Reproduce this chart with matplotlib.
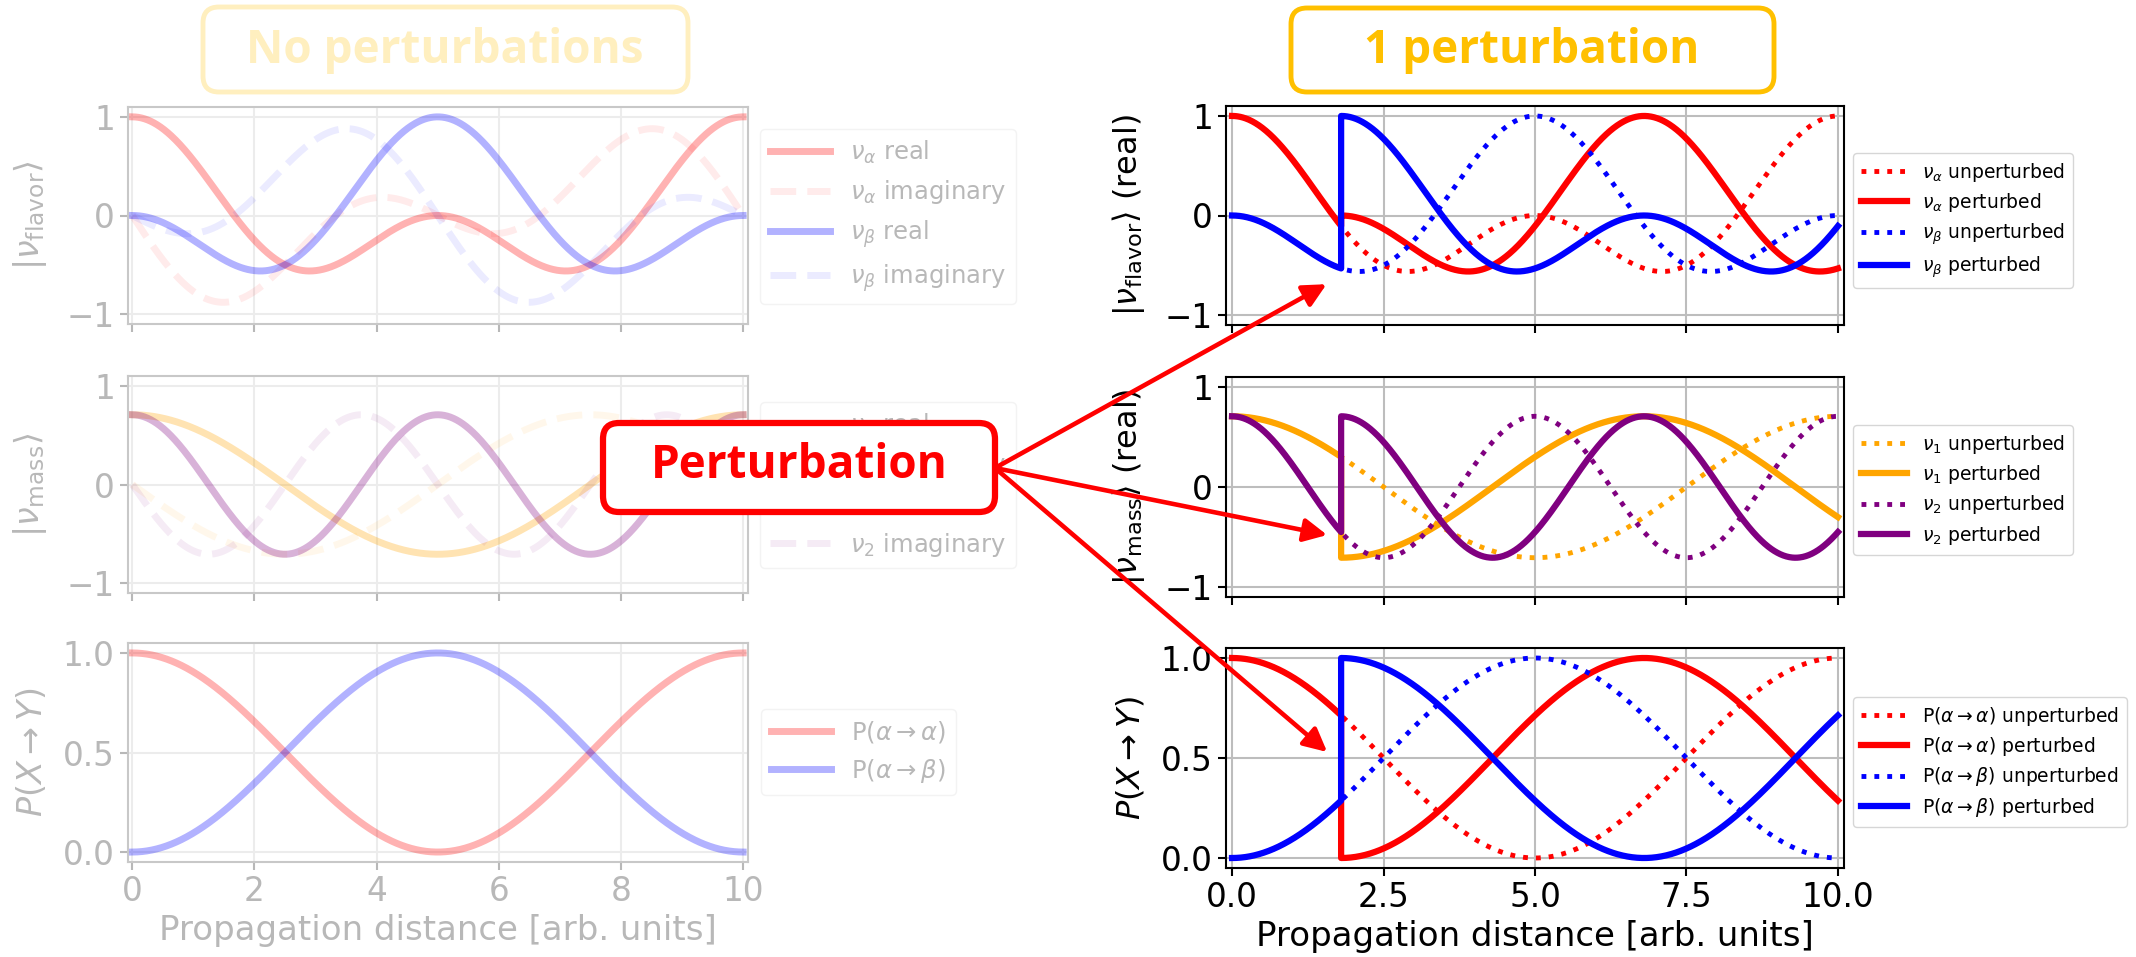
import numpy as np
import matplotlib.pyplot as plt
from matplotlib.patches import FancyBboxPatch, ConnectionPatch

# two-flavour oscillation model (arbitrary units)
x_max = 10.0
period_m1 = 10.0          # oscillation period of mass state 1
period_m2 = 5.0           # oscillation period of mass state 2
mixing_angle = np.pi / 4  # maximal mixing
x_pert = 1.8              # where the state is kicked into nu_beta

left_xticks = [0, 2, 4, 6, 8, 10]
right_xticks = [0, 2.5, 5, 7.5, 10]
amp_yticks = [-1, 0, 1]
prob_yticks = [0, 0.5, 1]

flavor_labels = [r"$\nu_\alpha$", r"$\nu_\beta$"]
mass_labels = [r"$\nu_1$", r"$\nu_2$"]
prob_labels = [r"P($\alpha\rightarrow\alpha$)", r"P($\alpha\rightarrow\beta$)"]
flavor_colors = ["red", "blue"]
mass_colors = ["orange", "purple"]

ct, st = np.cos(mixing_angle), np.sin(mixing_angle)


def evolve(x, c1_0, c2_0, x0=0.0):
    c1 = c1_0 * np.exp(-2j * np.pi * (x - x0) / period_m1)
    c2 = c2_0 * np.exp(-2j * np.pi * (x - x0) / period_m2)
    return c1, c2


def to_flavor(c1, c2):
    return ct * c1 + st * c2, -st * c1 + ct * c2


# free propagation of a nu_alpha
x = np.linspace(0, x_max, 1001)
m1, m2 = evolve(x, ct, st)
fa, fb = to_flavor(m1, m2)

# same start, but collapsed onto nu_beta at x_pert
x_bef = np.linspace(0, x_pert, 200)
x_aft = np.linspace(x_pert, x_max, 820)
b1, b2 = evolve(x_bef, ct, st)
a1, a2 = evolve(x_aft, -st, ct, x_pert)
xp = np.concatenate([x_bef, x_aft])
pm1 = np.concatenate([b1, a1])
pm2 = np.concatenate([b2, a2])
pfa, pfb = to_flavor(pm1, pm2)

W, H = 2136, 957
fig = plt.figure(figsize=(W / 100, H / 100), dpi=100)


def add_ax(x0, x1, y0, y1):
    return fig.add_axes([x0 / W, 1 - y1 / H, (x1 - x0) / W, (y1 - y0) / H])


def style(ax, fg, grid_c, spine_c):
    ax.grid(True, color=grid_c, lw=1.5)
    ax.set_axisbelow(True)
    for s in ax.spines.values():
        s.set_color(spine_c)
        s.set_linewidth(1.5)
    ax.tick_params(colors=fg, labelsize=23.5, length=6, width=1.5)
    ax.yaxis.set_label_coords(-0.128, 0.5)


def legend(ax, px, py, fs, **kw):
    return ax.legend(loc="upper left", bbox_to_anchor=(px / W, 1 - py / H),
                     bbox_transform=fig.transFigure, borderaxespad=0,
                     fontsize=fs, handlelength=2.5, **kw)


# ---------------- left column: no perturbation (faded) ----------------
gray = "#b8b8b8"
left_rows = [(107, 324), (376, 593), (643, 862)]
lax = [add_ax(128, 748, r0, r1) for r0, r1 in left_rows]

for c, lab, amp in zip(flavor_colors, flavor_labels, [fa, fb]):
    lax[0].plot(x, amp.real, color=c, lw=5, alpha=0.3, label=lab + " real")
    lax[0].plot(x, amp.imag, color=c, lw=5, ls="--", alpha=0.08, label=lab + " imaginary")
for c, lab, amp in zip(mass_colors, mass_labels, [m1, m2]):
    lax[1].plot(x, amp.real, color=c, lw=5, alpha=0.3, label=lab + " real")
    lax[1].plot(x, amp.imag, color=c, lw=5, ls="--", alpha=0.08, label=lab + " imaginary")
for c, lab, amp in zip(flavor_colors, prob_labels, [fa, fb]):
    lax[2].plot(x, np.abs(amp) ** 2, color=c, lw=5, alpha=0.3, label=lab)

lax[0].set_ylabel(r"$|\nu_{\rm flavor}\rangle$", fontsize=24, color=gray)
lax[1].set_ylabel(r"$|\nu_{\rm mass}\rangle$", fontsize=24, color=gray)
lax[2].set_ylabel(r"$P(X\rightarrow Y)$", fontsize=24, color=gray)
lax[2].set_xlabel("Propagation distance [arb. units]", fontsize=24.5, color=gray)

for i, ax in enumerate(lax):
    style(ax, gray, "#ececec", "#c8c8c8")
    ax.set_xlim(-0.07, 10.08)
    ax.set_xticks(left_xticks)
    if i < 2:
        ax.set_ylim(-1.1, 1.1)
        ax.set_yticks(amp_yticks)
        ax.tick_params(labelbottom=False)
    else:
        ax.set_ylim(-0.05, 1.05)
        ax.set_yticks(prob_yticks)

for ax, (lx, ly) in zip(lax, [(760, 129), (760, 402), (761, 709)]):
    lg = legend(ax, lx, ly, 17.5, labelcolor=gray)
    lg.get_frame().set_edgecolor("#f0f0f0")

# ---------------- right column: one perturbation ----------------
right_rows = [(106, 325), (377, 597), (648, 868)]
rax = [add_ax(1226, 1844, r0, r1) for r0, r1 in right_rows]

for c, lab, amp, pamp in zip(flavor_colors, flavor_labels, [fa, fb], [pfa, pfb]):
    rax[0].plot(x, amp.real, color=c, lw=3.5, ls=":", label=lab + " unperturbed")
    rax[0].plot(xp, pamp.real, color=c, lw=4.5, label=lab + " perturbed")
for c, lab, amp, pamp in zip(mass_colors, mass_labels, [m1, m2], [pm1, pm2]):
    rax[1].plot(x, amp.real, color=c, lw=3.5, ls=":", label=lab + " unperturbed")
    rax[1].plot(xp, pamp.real, color=c, lw=4.5, label=lab + " perturbed")
for c, lab, amp, pamp in zip(flavor_colors, prob_labels, [fa, fb], [pfa, pfb]):
    rax[2].plot(x, np.abs(amp) ** 2, color=c, lw=3.5, ls=":", label=lab + " unperturbed")
    rax[2].plot(xp, np.abs(pamp) ** 2, color=c, lw=4.5, label=lab + " perturbed")

rax[0].set_ylabel(r"$|\nu_{\rm flavor}\rangle$ (real)", fontsize=23)
rax[1].set_ylabel(r"$|\nu_{\rm mass}\rangle$ (real)", fontsize=23)
rax[2].set_ylabel(r"$P(X\rightarrow Y)$", fontsize=23)
rax[2].set_xlabel("Propagation distance [arb. units]", fontsize=24.5)

for i, ax in enumerate(rax):
    style(ax, "black", "#bdbdbd", "black")
    ax.set_xlim(-0.1, 10.1)
    ax.set_xticks(right_xticks)
    if i < 2:
        ax.set_ylim(-1.1, 1.1)
        ax.set_yticks(amp_yticks)
        ax.tick_params(labelbottom=False)
    else:
        ax.set_ylim(-0.05, 1.05)
        ax.set_yticks(prob_yticks)

for ax, (lx, ly) in zip(rax, [(1853, 153), (1853, 425), (1853, 697)]):
    legend(ax, lx, ly, 13.5, labelspacing=0.4)

# ---------------- title boxes and the perturbation callout ----------------
inch = fig.dpi_scale_trans


def box(x0, y0, x1, y1, edge, lw, z=5):
    p = FancyBboxPatch((x0 / 100, (H - y1) / 100), (x1 - x0) / 100, (y1 - y0) / 100,
                       boxstyle="round,pad=0,rounding_size=0.16", transform=inch,
                       facecolor="white", edgecolor=edge, lw=lw, zorder=z)
    fig.add_artist(p)


def box_text(cx, cy, s, color, z=6):
    fig.text(cx / W, 1 - cy / H, s, ha="center", va="center", fontsize=33,
             fontweight="bold", family=["Open Sans", "DejaVu Sans"], color=color, zorder=z)


box(203, 7, 688, 92, "#ffefbf", 3.5)
box_text(445, 50, "No perturbations", "#ffefbf")
box(1291, 8, 1774, 92, "#ffc000", 3.5)
box_text(1532, 50, "1 perturbation", "#ffc000")

# arrows from the callout to the jump in each right-hand panel
start = (995 / 100, (H - 468) / 100)
tips = [(1.56, -0.69), (1.57, -0.48), (1.57, 0.53)]
for ax, tip in zip(rax, tips):
    con = ConnectionPatch(xyA=start, coordsA=inch, xyB=tip, coordsB=ax.transData,
                          arrowstyle="-|>", color="red", lw=3.3, mutation_scale=35,
                          shrinkA=0, shrinkB=0, zorder=4)
    fig.add_artist(con)

box(603, 423, 995, 512, "red", 4.5, z=7)
box_text(799, 466, "Perturbation", "red", z=8)

fig.savefig("out.png", dpi=100)
